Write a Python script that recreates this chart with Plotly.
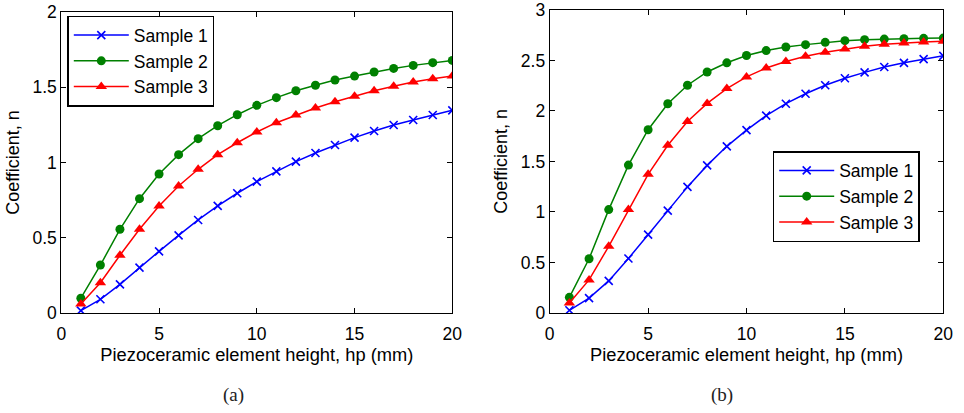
import plotly.graph_objects as go

hp = list(range(1, 21))

# Panel (a)
a_s1 = [0.018, 0.093, 0.192, 0.303, 0.411, 0.517, 0.619, 0.712, 0.796, 0.873,
        0.941, 1.006, 1.063, 1.116, 1.165, 1.209, 1.249, 1.282, 1.315, 1.346]
a_s2 = [0.10, 0.32, 0.557, 0.76, 0.924, 1.052, 1.158, 1.244, 1.317, 1.379,
        1.43, 1.476, 1.512, 1.547, 1.573, 1.60, 1.624, 1.644, 1.662, 1.677]
a_s3 = [0.062, 0.203, 0.385, 0.557, 0.712, 0.844, 0.955, 1.052, 1.131, 1.202,
        1.264, 1.315, 1.361, 1.403, 1.439, 1.476, 1.505, 1.534, 1.556, 1.573]

# Panel (b)
b_s1 = [0.026, 0.147, 0.317, 0.539, 0.775, 1.013, 1.248, 1.461, 1.65, 1.81,
        1.954, 2.072, 2.17, 2.255, 2.324, 2.382, 2.435, 2.477, 2.513, 2.546]
b_s2 = [0.154, 0.536, 1.023, 1.464, 1.814, 2.072, 2.255, 2.386, 2.477, 2.549,
        2.598, 2.634, 2.657, 2.68, 2.696, 2.706, 2.712, 2.716, 2.719, 2.722]
b_s3 = [0.098, 0.327, 0.66, 1.023, 1.373, 1.66, 1.895, 2.075, 2.222, 2.337,
        2.425, 2.49, 2.542, 2.582, 2.614, 2.64, 2.66, 2.673, 2.683, 2.69]

names = ["Sample 1", "Sample 2", "Sample 3"]
x_ticks = [0, 5, 10, 15, 20]
a_yticks = [0, 0.5, 1, 1.5, 2]
b_yticks = [0, 0.5, 1, 1.5, 2, 2.5, 3]
captions = ["(a)", "(b)"]
x_title = "Piezoceramic element height, hp (mm)"
y_title = "Coefficient, n"

W, H = 964, 413
FONT = "Liberation Sans, Arial, Helvetica, sans-serif"

styles = [
    dict(color="#0000FF", marker=dict(symbol="x-thin", size=8, color="#0000FF",
                                      line=dict(width=1.6, color="#0000FF"))),
    dict(color="#008000", marker=dict(symbol="circle", size=9, color="#008000")),
    dict(color="#FF0000", marker=dict(symbol="triangle-up", size=10, color="#FF0000")),
]

fig = go.Figure()

for series, xa, ya, leg in [((a_s1, a_s2, a_s3), "x", "y", "legend"),
                            ((b_s1, b_s2, b_s3), "x2", "y2", "legend2")]:
    for name, vals, st in zip(names, series, styles):
        fig.add_trace(go.Scatter(
            x=hp, y=vals, name=name, mode="lines+markers",
            line=dict(color=st["color"], width=1.5),
            marker=st["marker"], xaxis=xa, yaxis=ya, legend=leg,
        ))

def px_x(p):
    return p / W

def px_y(p):
    return 1 - p / H

axis_common = dict(
    showline=True, linecolor="black", linewidth=1, mirror="all",
    ticks="inside", ticklen=5, tickcolor="black", tickwidth=1,
    showgrid=False, zeroline=False, automargin=False,
    ticklabeloverflow="allow",
    tickfont=dict(family=FONT, size=17.5, color="black"),
)

fig.update_layout(
    width=W, height=H,
    margin=dict(l=0, r=0, t=0, b=0),
    paper_bgcolor="white", plot_bgcolor="white",
    font=dict(family=FONT, color="black"),
    xaxis=dict(domain=[px_x(61.3), px_x(452.3)], range=[0, 20], tickvals=x_ticks,
               title=dict(text=x_title, font=dict(family=FONT, size=18.3), standoff=2),
               ticklabelstandoff=5, anchor="y", **axis_common),
    yaxis=dict(domain=[px_y(313.3), px_y(11.7)], range=[0, 2], tickvals=a_yticks,
               ticktext=[str(v) for v in a_yticks],
               title=dict(text=y_title, font=dict(family=FONT, size=18), standoff=8),
               anchor="x", **axis_common),
    xaxis2=dict(domain=[px_x(549.7), px_x(943.3)], range=[0, 20], tickvals=x_ticks,
                title=dict(text=x_title, font=dict(family=FONT, size=18.3), standoff=2),
                ticklabelstandoff=5, anchor="y2", **axis_common),
    yaxis2=dict(domain=[px_y(312.9), px_y(10.0)], range=[0, 3], tickvals=b_yticks,
                ticktext=[str(v) for v in b_yticks],
                title=dict(text=y_title, font=dict(family=FONT, size=18), standoff=8),
                anchor="x2", **axis_common),
    legend=dict(x=px_x(67.3), y=px_y(15.7), xanchor="left", yanchor="top",
                bgcolor="white", bordercolor="black", borderwidth=1.5,
                font=dict(family=FONT, size=17.5), itemwidth=55, tracegroupgap=0),
    legend2=dict(x=px_x(772.7), y=px_y(151), xanchor="left", yanchor="top",
                 bgcolor="white", bordercolor="black", borderwidth=1.5,
                 font=dict(family=FONT, size=17.5), itemwidth=55, tracegroupgap=0),
    showlegend=True,
)

for cap, cx in zip(captions, [233, 722]):
    fig.add_annotation(text=cap, x=px_x(cx), y=px_y(395), xref="paper", yref="paper",
                       showarrow=False, xanchor="center", yanchor="middle",
                       font=dict(family="Liberation Serif, DejaVu Serif, serif", size=19, color="#222"))

fig.write_html("out.html", config={"displayModeBar": False},
               post_script="document.body.style.margin='0';document.body.style.overflow='hidden';")
